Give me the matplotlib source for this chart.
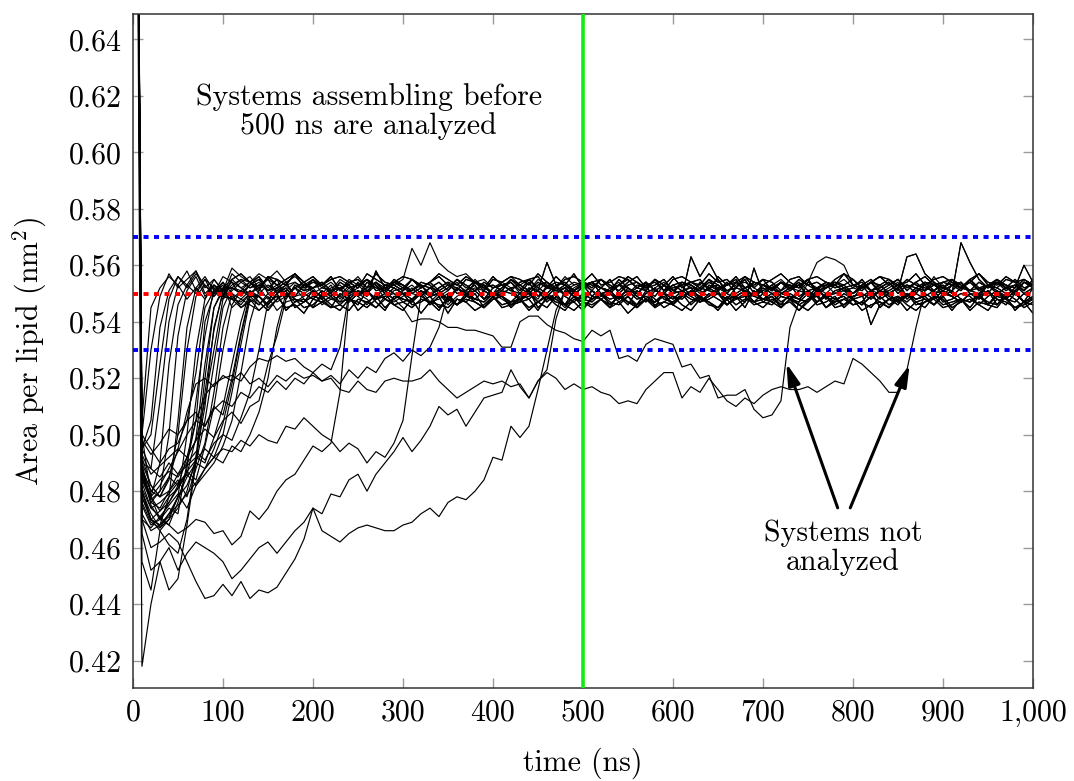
import numpy as np
import matplotlib.pyplot as plt

plt.rcParams['font.family'] = 'serif'
plt.rcParams['font.serif'] = ['cmr10']
plt.rcParams['mathtext.fontset'] = 'cm'
plt.rcParams['axes.formatter.use_mathtext'] = True
plt.rcParams['font.size'] = 21.5

time_step = 10       # ns between frames
start_area = 0.95    # area of the unassembled box at t = 0 (off the top)

x_ticks = [0, 100, 200, 300, 400, 500, 600, 700, 800, 900, 1000]
x_tick_labels = ['0', '100', '200', '300', '400', '500', '600', '700', '800', '900', '1,000']
y_ticks = [0.42, 0.44, 0.46, 0.48, 0.50, 0.52, 0.54, 0.56, 0.58, 0.60, 0.62, 0.64]
y_tick_labels = ['0.42', '0.44', '0.46', '0.48', '0.50', '0.52', '0.54', '0.56', '0.58', '0.60', '0.62', '0.64']

bilayer_area = 0.55
window = [0.53, 0.57]
cutoff_time = 500

# assembled bilayer: deviation from 0.550 in 0.001 nm^2, frames 110 .. 1000 ns
band_rows = [
    [2, -1, 3, 0, -3, 1, 4, -2, 0, 2, 1, -2, 3, 1, -1, 4, 0, -3, 2, 1, 0, 3, -1, 2, -4, 1, 0, 3, -2, 1,
     2, -1, 0, 4, -2, 1, 3, -1, 0, -3, 2, 1, -2, 3, 0, -1, 4, 1, -2, 0, 3, -1, 2, 0, -3, 1, 2, -2, 4, 0,
     -1, 2, 1, -3, 0, 3, -2, 1, 2, -1, 0, 4, -2, 1, -1, 3, 0, -2, 2, 1, -3, 1, 0, 2, -1, 3, 1, -2, 0, 2],
    [-2, 1, 0, -3, 2, -1, 1, 3, -2, 0, -1, 2, -3, 0, 1, -2, 3, 0, -1, -3, 1, -2, 0, 2, -1, -3, 1, 0, -2, 2,
     -1, 0, -3, 1, 2, -2, 0, -1, 3, -2, 0, 1, -2, -1, 2, 0, -3, 1, -1, 2, -2, 0, 1, -3, 2, -1, 0, 2, -2, 1,
     0, -3, 1, 2, -1, 0, -2, 1, 3, -1, -2, 0, 2, -1, 1, -3, 0, 2, -1, 0, 1, -2, 0, 3, -1, -2, 1, 0, -3, 1],
    [4, 6, 3, 5, 1, 4, 2, 6, 3, 1, 3, 0, 4, 2, 5, 1, 3, 0, 2, 4, 15, 9, 17, 10, 7, 5, 6, 3, 4, 1,
     3, 5, 2, 4, 0, 3, 1, 5, 2, 3, 1, 4, 2, 0, 3, 5, 1, 2, 4, 0, 2, 3, 1, 4, 0, 2, 5, 1, 3, 2,
     0, 3, 1, 4, 2, 0, 3, 1, 2, 4, 1, 3, 0, 2, 4, 1, 3, 0, 2, 1, 3, 1, 4, 0, 2, 3, 1, 2, 0, 3],
    [1, -2, 0, 2, -1, 3, -3, 0, 1, -2, 0, 2, -1, -3, 1, 0, 2, -2, 1, 3, -1, 0, 2, -2, 1, -1, 3, 0, -2, 1,
     2, -1, 0, 1, -3, 2, 0, -1, 2, -2, 1, 3, 0, -1, 2, -2, 1, 0, 3, -1, 2, 16, 9, 14, 8, 3, 1, 2, -1, 0,
     2, -2, 1, 0, 3, -1, 0, 2, -2, 1, -1, 2, 0, -2, 1, 3, -1, 0, 2, -1, 0, 1, -2, 2, 0, -1, 3, 1, -2, 0],
    [3, 1, -1, 2, 0, 4, -2, 1, 3, 0, -2, 1, 2, -1, 3, 0, -3, 2, 1, -1, 0, 2, -2, 1, 3, -1, 0, 2, -3, 1,
     2, 0, -1, 3, -2, 1, 0, 2, -1, 1, 3, -1, 0, 2, 1, -2, 3, 0, -1, 2, 0, 1, -3, 2, 0, 3, -1, 1, -2, 0,
     2, -1, 1, 3, 0, -2, 1, 2, 0, -1, 1, 3, -1, 0, 2, -2, 1, 3, 0, 2, -1, 17, 10, 4, 1, 3, 0, 2, -1, 1],
    [-1, 2, 0, -2, 1, 3, -1, 0, -3, 2, 1, -1, 0, 3, -2, 1, -1, 2, 0, -2, 2, -3, 1, 0, -1, 2, 1, -2, 0, 3,
     -1, 0, 2, -2, 1, -1, 3, 0, -2, 1, 0, 2, -1, 1, -3, 0, 2, -1, 1, 0, -2, 1, 3, 0, -1, 2, -2, 1, 13, 4,
     1, -1, 2, 0, -2, 1, 3, -1, 0, 2, -2, 0, 1, -1, 3, 0, -2, 1, 2, -1, 0, 2, -2, 1, 0, -1, 3, -2, 1, 0],
    [5, 2, 4, 0, 3, 1, -1, 2, 0, 3, 1, 4, -1, 2, 0, 3, 1, -2, 2, 0, 3, 1, 0, 2, -1, 3, 0, 2, 1, -2,
     0, 3, 1, -1, 2, 0, 4, 1, -1, 2, 1, 0, 3, -2, 1, 2, 0, 3, -1, 1, 2, 0, -1, 3, 1, -2, 2, 0, 1, 3,
     -1, 2, 0, 1, 3, -1, 0, 2, 1, -2, 1, 3, 0, 2, -1, 11, 12, 5, 2, 0, 3, 1, -1, 2, 0, 3, 1, -2, 2, 1],
    [2, 0, 3, 1, -2, 2, 4, 0, -1, 3, 1, 2, -1, 0, 3, 1, 10, 4, 2, 0, -1, 3, 1, 2, 0, -2, 1, 3, 0, 2,
     1, -1, 2, 0, 3, 13, 5, 1, -1, 2, 0, 2, -2, 1, 3, 0, 1, -1, 2, 0, 3, 1, -1, 2, 0, -2, 1, 3, 1, 0,
     -1, 2, 1, 0, 3, -1, 2, 0, -2, 1, 2, 0, 3, 1, -1, 2, 0, 1, 3, -1, 0, 2, 1, -2, 1, 3, 0, -1, 2, 0],
    [-2, 0, -1, 1, -3, 0, 2, -2, -1, 1, -3, 0, 1, -2, 0, -1, 2, -3, 0, 1, -1, -2, 1, 0, -3, 1, -1, 0, 2, -2,
     0, -1, -3, 1, 0, -2, 1, -1, 0, 2, -2, 1, 0, -3, -1, 1, 0, -2, 2, -1, 0, -2, 1, 0, -1, -3, 1, 0, -2, 1,
     -1, 0, 2, -2, 0, 1, -3, 0, 1, -1, 2, -2, 0, -1, 1, -3, 0, 2, -1, 0, -2, 1, 0, -1, 2, 0, -2, 1, 9, 3],
    [1, 3, 0, -2, 2, 1, -1, 3, 0, 2, -1, 1, 2, 0, -2, 3, 1, -1, 0, 2, 1, -2, 0, 3, 1, -1, 2, 0, -3, 1,
     0, 2, 1, -1, 3, 0, -2, 1, 2, 0, 3, -1, 0, 2, 1, -2, 0, -9, -3, 1, 2, 0, -1, 3, 0, 1, -2, 2, 0, -1,
     1, 3, 0, -2, 1, 2, 0, -1, 3, 1, -2, 0, 2, 1, -1, 0, 3, -1, 1, 2, 0, -2, 1, 3, 0, -1, 2, 0, 1, -1],
    [0, -1, 2, 1, -3, 0, 2, -1, 1, 3, -2, 0, 1, -1, 2, 0, -3, 1, 2, -1, 0, 3, -1, 0, 2, -2, 1, 0, -1, 2,
     1, -3, 0, 2, -1, 1, 0, -2, 3, 0, -1, 2, 0, 1, -2, 3, 0, -1, 1, -2, 2, 0, -1, 1, 3, -2, 0, 2, -1, 0,
     1, -2, 2, 0, -1, 3, 1, -2, 0, 1, 2, -9, -2, 0, 1, -1, 2, 0, -2, 1, 3, 0, -1, 2, -2, 1, 0, 3, -1, 0],
    [6, 3, 5, 1, 4, 2, 0, 3, 1, -1, 2, 0, 3, -2, 1, 2, -1, 0, 3, 1, -1, 2, 0, 1, -2, 3, 1, -1, 2, 0,
     1, 3, -1, 0, 2, -2, 1, 3, 0, -1, 2, 0, 1, -1, 3, 0, -2, 2, 1, 0, -1, 2, 0, 3, 1, -1, 0, 2, -2, 1,
     3, 0, -1, 2, 1, -2, 0, 1, 3, -1, 0, 2, -1, 1, -2, 0, 3, 1, -1, 2, 0, -2, 1, 0, 2, -1, -3, 1, -2, -6],
    [7, 4, 2, 5, 3, 6, 2, 4, 1, 3, 0, 2, -1, 3, 1, -2, 2, 0, 1, -1, 3, 1, -2, 0, 2, 1, -1, 3, 0, -2,
     2, 0, 1, -1, 3, 1, -2, 0, 2, 1, -1, 3, 0, 2, -2, 1, 0, 3, 1, -1, 2, 1, -2, 0, 3, -1, 1, 2, 0, -2,
     1, 3, 0, -1, 2, 0, -2, 1, 3, 0, -1, 2, 1, -2, 0, 3, 1, 0, -1, 2, 1, -1, 3, 0, -2, 2, 1, 0, 3, 1],
    [-1, -3, 0, -2, 1, -4, -1, 0, -3, -2, 1, -2, -4, 0, -1, -3, 0, 2, -2, -1, -3, 0, -1, -4, 1, -2, 0, -1, -3, 1,
     -2, -1, 0, -3, -1, 1, -2, -4, 0, -1, -3, 0, -2, 1, -1, -3, 0, -2, -1, 1, -2, -4, 0, -1, -3, 1, -2, 0, -1, -3,
     0, -2, -1, -4, 0, 1, -3, -1, 0, -2, -1, -3, 1, -2, 0, -4, -1, 0, -2, 1, -3, -1, 0, -2, -4, 0, -1, -3, -2, 0],
    [3, 5, 2, 4, 1, 3, -1, 2, 4, 0, 2, 1, -1, 3, 0, 2, 4, 1, -2, 1, 3, 0, 2, -1, 1, 4, 0, 2, 1, -1,
     2, 4, 0, 1, -2, 3, 1, 0, 2, 4, 1, -1, 2, 3, 0, 1, -2, 2, 4, 1, 0, 3, 1, -1, 2, 0, 4, 1, -1, 3,
     2, 0, 1, 4, -1, 2, 3, 0, 1, -2, 3, 1, 0, 2, 4, -1, 1, 3, 0, 2, 1, 4, 0, -1, 3, 2, 0, 1, 4, 2],
    [-2, 1, -1, 0, 2, -3, 0, 1, -2, -1, 0, -3, 1, -1, 0, 2, -2, -1, 1, 0, -2, 1, 0, -3, -1, 2, 0, -2, 1, -1,
     0, -2, 1, 2, -1, -3, 0, 1, -2, 0, 1, -1, -3, 0, 2, -1, 1, -2, 0, -3, 1, 0, -2, 1, -1, 0, 2, -3, 1, 0,
     -2, 1, 0, -1, 2, -3, 0, 1, -1, 0, 1, -2, 0, 2, -1, 0, -3, 1, 0, -2, 0, 1, -2, -1, 0, 2, -1, -3, 1, 0],
    [1, 4, 2, -1, 3, 0, 2, 5, 1, -2, 3, 1, 0, 4, 2, -1, 3, 1, 0, 2, 5, 2, 0, 3, -1, 2, 4, 1, 0, 3,
     1, -1, 2, 4, 0, 3, 1, -2, 2, 0, 4, 1, 3, 0, 2, -1, 3, 5, 1, 0, 2, 4, 0, 1, 3, -1, 2, 0, 4, 1,
     3, 0, 2, -1, 1, 4, 2, 0, 3, 1, -1, 2, 4, 1, 0, 3, 1, 2, -1, 3, 2, 0, 3, 1, 4, -1, 2, 3, 0, 5],
    [0, -2, 1, 3, -1, 0, 2, -3, 1, 0, 2, -1, 0, 1, -3, 2, 0, -1, 3, 1, -2, 0, 2, -1, 1, 0, -3, 2, 0, 1,
     -1, 3, 0, -2, 1, 2, -1, 0, -3, 1, 2, 0, -1, 3, 0, -2, 1, 2, -1, 0, 1, -3, 2, 0, 1, -1, 0, 3, -2, 1,
     0, 2, -1, 1, -3, 0, 2, 1, -1, 0, 3, -1, 0, 2, -2, 1, 0, -1, 2, -3, 1, 0, 2, -1, 1, -2, 0, 3, 0, 1],
]
# mean offset of each bilayer row, 0.001 nm^2
band_level = [-3, 4, 1, -3, 1, -4, 2, -2, 1, 4, -2, -1, 2, -2, 0, 3, -3, 2]

# systems that assemble early: area per lipid in 0.001 nm^2, frames 10, 20, ... ns
fast_runs = [
    [505, 545, 552, 556, 553, 558, 551, 555, 549, 552],
    [500, 530, 549, 557, 552, 555, 558, 550, 553, 551],
    [495, 505, 538, 551, 556, 552, 557, 553, 549, 554],
    [490, 488, 512, 540, 553, 548, 552, 556, 551, 549],
    [485, 478, 490, 525, 546, 553, 550, 555, 552, 548],
    [488, 476, 480, 500, 535, 551, 556, 549, 553, 550],
    [480, 470, 468, 478, 505, 538, 552, 548, 555, 551],
    [492, 482, 478, 484, 500, 530, 549, 553, 550, 556],
    [478, 470, 466, 470, 478, 500, 530, 548, 553, 549],
    [500, 495, 490, 495, 497, 505, 522, 545, 551, 554],
    [483, 474, 471, 468, 476, 488, 512, 535, 552, 549],
    [475, 468, 470, 474, 472, 490, 505, 540, 550, 553],
    [487, 478, 473, 478, 481, 486, 499, 525, 545, 552],
    [480, 472, 467, 470, 474, 480, 492, 510, 538, 550],
    [495, 488, 485, 490, 486, 492, 498, 512, 530, 548],
    [472, 466, 468, 471, 478, 482, 490, 505, 525, 545, 552],
    [485, 476, 474, 480, 484, 478, 488, 497, 515, 538, 550],
    [478, 470, 473, 476, 481, 487, 484, 496, 510, 530, 546, 551],
    [490, 482, 478, 480, 486, 489, 492, 490, 499, 510, 525, 540, 551],
    [476, 469, 467, 472, 475, 479, 483, 488, 495, 504, 518, 535, 549],
    [484, 477, 480, 485, 482, 487, 491, 495, 492, 500, 515, 532, 548],
    [498, 493, 497, 502, 500, 505, 508, 503, 510, 507, 520, 536, 550],
    [470, 467, 471, 475, 479, 474, 482, 486, 490, 496, 505, 522, 540, 551],
    [488, 480, 484, 487, 485, 490, 494, 491, 497, 500, 498, 506, 515, 530, 547, 552],
    [481, 474, 476, 479, 483, 486, 482, 488, 492, 490, 496, 494, 500, 508, 520, 538, 550],
    [493, 486, 489, 492, 495, 492, 498, 502, 499, 505, 508, 504, 510, 512, 525, 535, 548, 553],
    [418, 440, 455, 445, 449, 468, 490, 515, 537, 551],
    [455, 445, 466, 461, 458, 470, 492, 520, 545, 551],
]
fast_band = [2, 12, 16, 6, 11, 14, 0, 4, 3, 7, 9, 5, 17, 10, 15, 8, 13, 1,
             0, 3, 5, 7, 9, 11, 13, 15, 17, 1]

# systems that assemble late (or after the 500 ns cutoff)
slow_runs = [
    [500, 478, 470, 468, 465, 467, 470, 469, 465, 466, 461, 464, 473, 470, 474, 480, 484, 486, 491, 496,
     494, 497, 515, 549],
    [490, 475, 470, 476, 482, 492, 505, 514, 518, 520, 521, 519, 524, 527, 526, 528, 526, 527, 524, 522,
     525, 523, 531, 550],
    [480, 470, 468, 472, 478, 485, 490, 488, 492, 495, 494, 498, 496, 500, 498, 497, 503, 502, 506, 503,
     500, 498, 494, 497, 495, 490, 494, 492, 497, 505, 528, 549],
    [486, 478, 482, 488, 494, 500, 505, 503, 509, 512, 510, 515, 513, 517, 515, 519, 516, 520, 518, 522,
     519, 521, 518, 523, 520, 524, 522, 527, 529, 526, 530, 528, 531, 538, 550],
    [465, 452, 455, 460, 452, 458, 462, 460, 458, 455, 449, 452, 456, 460, 462, 458, 462, 466, 469, 474,
     472, 479, 478, 484, 486, 480, 486, 490, 494, 499, 494, 498, 503, 510, 507, 509, 503, 508, 513, 514,
     515, 523, 517, 513, 519, 523, 541, 551],
    [470, 460, 462, 465, 462, 455, 448, 442, 443, 447, 443, 448, 442, 445, 444, 446, 451, 456, 463, 474,
     466, 464, 462, 465, 467, 468, 467, 466, 466, 468, 469, 472, 474, 471, 476, 478, 477, 480, 484, 492,
     491, 503, 499, 503, 516, 530, 544, 551],
    [495, 500, 525, 548, 556, 553, 558, 552, 555, 551, 554, 549, 553, 556, 550, 552, 548, 553, 551, 555,
     550, 553, 548, 552, 549, 551, 554, 550, 548, 545, 540, 541, 541, 540, 538, 538, 537, 537, 536, 535,
     531, 531, 540, 542, 542, 539, 537, 536, 534, 533, 537, 535, 537, 527, 528, 526, 532, 534, 533, 532,
     524, 525, 520, 521, 513, 514, 514, 516, 509, 506, 507, 512, 538, 547, 554, 561, 563, 562, 560, 553,
     551],
    [488, 480, 478, 485, 495, 508, 518, 520, 517, 521, 519, 522, 518, 520, 517, 521, 519, 522, 520, 521,
     519, 520, 516, 515, 519, 516, 515, 519, 520, 519, 519, 520, 523, 519, 516, 513, 515, 517, 519, 518,
     519, 517, 518, 513, 519, 522, 520, 516, 518, 516, 517, 515, 514, 511, 512, 511, 516, 519, 522, 522,
     513, 517, 515, 520, 516, 512, 510, 513, 511, 514, 516, 517, 516, 516, 517, 515, 517, 519, 518, 527,
     525, 522, 519, 515, 515, 523, 538, 551, 556],
]
slow_band = [4, 6, 8, 10, 16, 2, 12, 14]


def trajectory(run, row):
    vals = [start_area] + [v / 1000 for v in run]
    vals += [bilayer_area + (band_level[row] + d) / 1000 for d in band_rows[row][len(run) - 10:]]
    t = np.arange(len(vals)) * time_step
    return t, vals


fig = plt.figure(figsize=(10.74, 7.81), dpi=100)
ax = fig.add_axes([0.1238, 0.1191, 0.838, 0.863])

for run, row in zip(slow_runs + fast_runs, slow_band + fast_band):
    t, vals = trajectory(run, row)
    ax.plot(t, vals, color='black', lw=0.85, zorder=2)

for y in window:
    ax.axhline(y, color='#0000ff', lw=2.8, ls=(0, (1.3, 1.4)), zorder=3)
ax.axhline(bilayer_area, color='#ff0000', lw=2.8, ls=(0, (1.3, 1.4)), zorder=3)
ax.axvline(cutoff_time, color='#11ee11', lw=2.6, zorder=4)

ax.text(262, 0.6143, 'Systems assembling before\n500 ns are analyzed',
        ha='center', va='center', linespacing=1.05, zorder=5)
ax.text(789, 0.4600, 'Systems not\nanalyzed', ha='center', va='center',
        linespacing=1.05, zorder=5)

arrow = dict(arrowstyle='-|>,head_length=0.65,head_width=0.18', color='black',
             lw=2.2, mutation_scale=20, shrinkA=0, shrinkB=0)
ax.annotate('', xy=(726, 0.5253), xytext=(783, 0.4741), arrowprops=arrow, zorder=5)
ax.annotate('', xy=(863, 0.5248), xytext=(797, 0.4741), arrowprops=arrow, zorder=5)

ax.set_xlim(0, 1000)
ax.set_ylim(0.4103, 0.649)
ax.set_xticks(x_ticks)
ax.set_xticklabels(x_tick_labels)
ax.set_yticks(y_ticks)
ax.set_yticklabels(y_tick_labels)
ax.tick_params(direction='in', length=7, width=1, color='#9a9a9a',
               top=True, right=True, pad=8)
for s in ax.spines.values():
    s.set_color('#333333')
    s.set_linewidth(1.1)

ax.set_xlabel('time (ns)', labelpad=15)
ax.set_ylabel(r'Area per lipid (nm$^2$)', labelpad=14)

fig.savefig('out.png', dpi=100)
